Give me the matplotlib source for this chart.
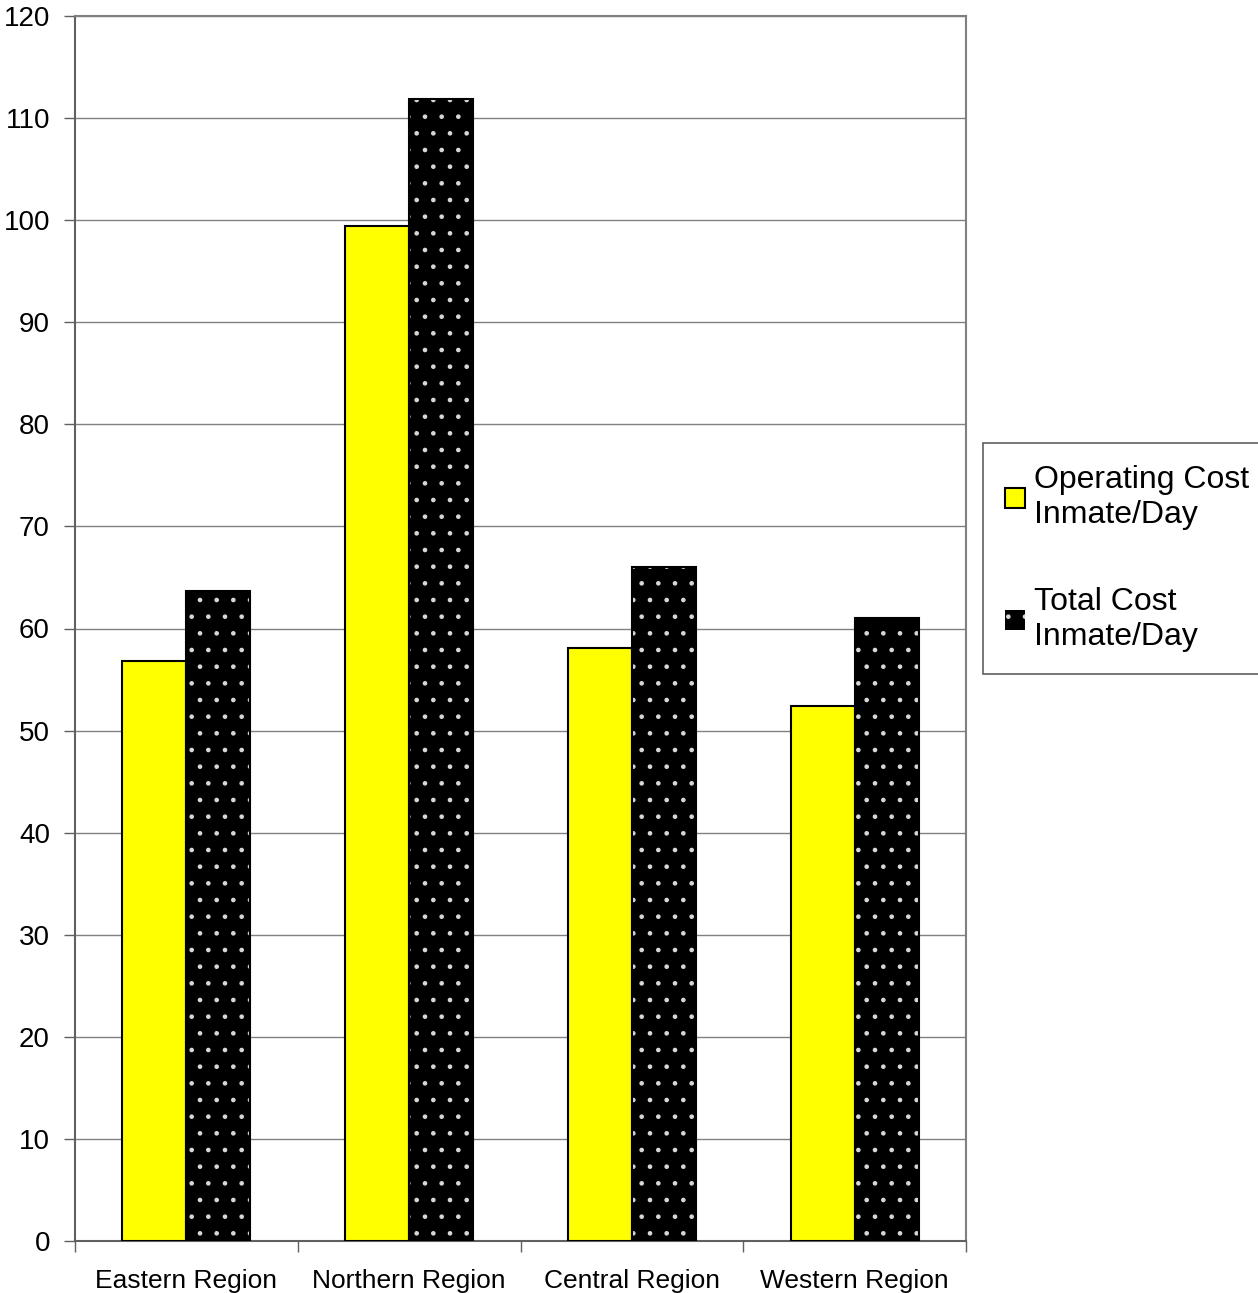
import matplotlib.pyplot as plt
import numpy as np

plt.rcParams['font.family'] = ['Liberation Sans', 'DejaVu Sans']
plt.rcParams['hatch.linewidth'] = 0.9

regions = ['Eastern Region', 'Northern Region', 'Central Region', 'Western Region']
operating_cost = [56.8, 99.4, 58.1, 52.4]
total_cost = [63.7, 111.9, 66.0, 61.0]
series_labels = ['Operating Cost\nInmate/Day', 'Total Cost\nInmate/Day']

W, H = 1258, 1293
fig = plt.figure(figsize=(W / 100, H / 100), dpi=100)
ax = fig.add_axes([75 / W, (H - 1241) / H, (966 - 75) / W, (1241 - 16) / H])

x = np.arange(len(regions))
w = 0.2875

b1 = ax.bar(x - w / 2, operating_cost, w, color='#ffff00', edgecolor='black', linewidth=1.5, zorder=3)
# black bars with white dots, then a black outline on top
b2 = ax.bar(x + w / 2, total_cost, w, color='black', edgecolor='#d8d8d8', hatch='.', linewidth=0, zorder=3)
ax.bar(x + w / 2, total_cost, w, fill=False, edgecolor='black', linewidth=1.5, zorder=4)

ax.set_xlim(-0.5, len(regions) - 0.5)
ax.set_ylim(0, 120)
ax.set_yticks(np.arange(0, 121, 10))
ax.yaxis.grid(True, color='#808080', linewidth=1)
ax.set_axisbelow(True)

ax.set_xticks(np.arange(-0.5, len(regions)), minor=False)
ax.set_xticklabels([])
ax.set_xticks(x, minor=True)
ax.set_xticklabels(regions, minor=True, fontsize=19)
ax.tick_params(axis='x', which='minor', length=0, pad=20)
ax.tick_params(axis='x', which='major', length=8, width=1, color='#606060')
ax.tick_params(axis='y', length=8, width=1, labelsize=20, color='#606060', pad=10)

for side in ['top', 'right']:
    ax.spines[side].set_color('#808080')
ax.spines['left'].set_color('#606060')
ax.spines['bottom'].set_color('#606060')
for s in ax.spines.values():
    s.set_linewidth(1.5)

leg = fig.legend([b1, b2], series_labels, loc='upper left',
                 bbox_to_anchor=(983 / W, 1 - 443 / H), fontsize=23,
                 fancybox=False, framealpha=1, edgecolor='#606060',
                 handlelength=0.6, handleheight=0.6, handletextpad=0.3,
                 labelspacing=1.8, borderpad=0.7, borderaxespad=0)
leg.get_frame().set_linewidth(1.2)

fig.savefig('out.png', dpi=100)
